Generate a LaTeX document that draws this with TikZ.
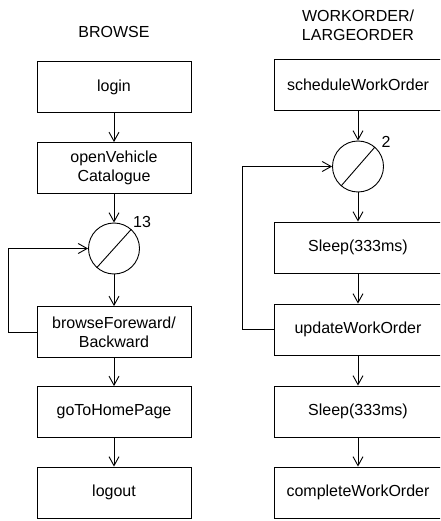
\documentclass[tikz,border=0pt]{standalone}
\usepackage{fontspec}
\setmainfont{Liberation Sans}
\usetikzlibrary{arrows.meta}
\begin{document}
\begin{tikzpicture}[x=1pt,y=-1pt,
  every node/.style={font=\fontsize{16}{19}\selectfont, text=black},
  stepbox/.style={draw=black, line width=0.9pt, rectangle, inner sep=0pt,
    minimum height=51pt, align=center},
  leftbox/.style={stepbox, minimum width=154pt},
  rightbox/.style={stepbox, minimum width=168pt},
  loopnode/.style={draw=black, line width=0.9pt, circle, inner sep=0pt, minimum size=51pt},
  arr/.style={draw=black, line width=0.9pt, -{Straight Barb[length=9pt,width=10pt]}}]
\useasboundingbox (0,0) rectangle (440,521);
\clip (0,0) rectangle (440,521);
\fill[white] (0,0) rectangle (440,521);

% Browse sequence
\node (t1) at (114,32) {BROWSE};
\node[leftbox] (login) at (114,87) {login};
\node[leftbox] (open) at (114,168) {openVehicle\\Catalogue};
\node[loopnode] (c1) at (114,248.5) {};
\draw[line width=0.9pt] (c1.228) -- (c1.48);
\node (n13) at (142,222) {13};
\node[leftbox] (browse) at (114,332) {browseForeward/\\Backward};
\node[leftbox] (home) at (114,412) {goToHomePage};
\node[leftbox] (logout) at (114,492.5) {logout};

\draw[arr] (login) -- (open);
\draw[arr] (open) -- (c1);
\draw[arr] (c1) -- (browse);
\draw[arr] (browse) -- (home);
\draw[arr] (home) -- (logout);
\draw[arr] (browse.west) -- ++(-28,0) |- (c1.west);

% Work order sequence
\node[align=center] (t2) at (358,25) {WORKORDER/\\LARGEORDER};
\node[rightbox] (sched) at (358,85) {scheduleWorkOrder};
\node[loopnode] (c2) at (358,166.5) {};
\draw[line width=0.9pt] (c2.229) -- (c2.49);
\node (n2) at (386,142) {2};
\node[rightbox] (sleepa) at (358,247.5) {Sleep(333ms)};
\node[rightbox] (update) at (358,329.5) {updateWorkOrder};
\node[rightbox] (sleepb) at (358,411.5) {Sleep(333ms)};
\node[rightbox] (complete) at (358,492.5) {completeWorkOrder};

\draw[arr] (sched) -- (c2);
\draw[arr] (c2) -- (sleepa);
\draw[arr] (sleepa) -- (update);
\draw[arr] (update) -- (sleepb);
\draw[arr] (sleepb) -- (complete);
\draw[arr] (update.west) -- ++(-31,0) |- (c2.west);
\end{tikzpicture}
\end{document}
